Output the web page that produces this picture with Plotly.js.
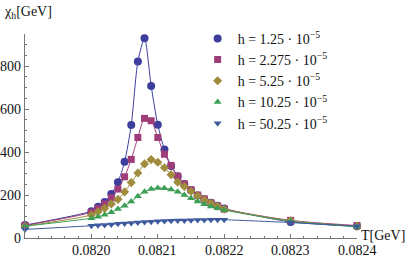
<!DOCTYPE html>
<html><head><meta charset="utf-8">
<script src="https://cdn.plot.ly/plotly-3.0.1.min.js"></script>
<style>html,body{margin:0;padding:0;background:#fff}#chart{width:411px;height:262px}</style>
</head><body><div id="chart"></div>
<script>
const T = [0.0819, 0.08200, 0.08201, 0.08202, 0.08203, 0.08204, 0.08205, 0.08206, 0.08207, 0.08208, 0.08209,
           0.08210, 0.08211, 0.08212, 0.08213, 0.08214, 0.08215, 0.08216, 0.08217, 0.08218, 0.08219, 0.08220,
           0.0823, 0.0824];
const chi_h125  = [60, 125, 145, 168, 205, 260, 355, 526, 822, 930, 708, 527, 412, 335, 287, 252, 222, 198, 180, 164, 150, 137, 75, 55];
const chi_h2275 = [58, 120, 138, 158, 188, 228, 285, 366, 468, 557, 546, 468, 390, 338, 288, 252, 225, 200, 182, 163, 148, 135, 82, 58];
const chi_h525  = [55, 107, 122, 138, 158, 180, 215, 258, 303, 345, 365, 353, 327, 295, 260, 240, 218, 196, 178, 162, 148, 134, 80, 55];
const chi_h1025 = [55, 92, 99, 108, 120, 135, 150, 170, 195, 215, 228, 233, 232, 226, 215, 200, 185, 170, 157, 147, 138, 130, 78, 52];
const chi_h5025 = [40, 57, 59, 61, 63, 66, 68, 70, 72, 74, 76, 78, 79, 80, 81, 82, 83, 84, 84, 85, 85, 85, 72, 55];
const xTickVals = [0.0820, 0.0821, 0.0822, 0.0823, 0.0824];
const xTickText = ['0.0820', '0.0821', '0.0822', '0.0823', '0.0824'];
const yTickVals = [0, 200, 400, 600, 800];
const yTickText = ['0', '200', '400', '600', '800'];
const labels = ["h = 1.25 · 10<sup>−5</sup>", "h = 2.275 · 10<sup>−5</sup>", "h = 5.25 · 10<sup>−5</sup>",
                "h = 10.25 · 10<sup>−5</sup>", "h = 50.25 · 10<sup>−5</sup>"];
const series = [chi_h125, chi_h2275, chi_h525, chi_h1025, chi_h5025];
const colors = ["#3d3d9e", "#9e3d78", "#a08c3d", "#3d9e55", "#3d5a9e"];
const symbols = ["circle", "square", "diamond", "triangle-up", "triangle-down"];
const sizes = [8, 7, 7, 7, 7];

const traces = [];
series.forEach((s, i) => {
  traces.push({x: T, y: s, type: 'scatter', mode: 'lines+markers', showlegend: false, cliponaxis: false,
    line: {color: colors[i], width: 1, shape: 'spline', smoothing: 0.7},
    marker: {color: colors[i], symbol: symbols[i], size: sizes[i]}});
});
series.forEach((s, i) => {
  traces.push({x: [null], y: [null], type: 'scatter', mode: 'markers', name: labels[i],
    marker: {color: colors[i], symbol: symbols[i], size: sizes[i]}});
});

const FAM = 'Liberation Serif';
const mkFont = () => ({family: FAM, size: 14, color: '#111'});
const annotations = [
  {text: 'χ<sub>h</sub>[GeV]', xref: 'paper', yref: 'paper', x: -0.07, y: 1.105, xanchor: 'left', yanchor: 'middle',
   showarrow: false, font: mkFont()},
  {text: 'T[GeV]', xref: 'paper', yref: 'paper', x: 1.005, y: 0.01, xanchor: 'left', yanchor: 'middle',
   showarrow: false, font: mkFont()}
];
xTickVals.forEach((v, i) => annotations.push({text: xTickText[i], x: v, xref: 'x', yref: 'paper', y: -0.06,
  xanchor: 'center', yanchor: 'middle', showarrow: false, font: mkFont()}));
yTickVals.forEach((v, i) => annotations.push({text: yTickText[i], y: v, yref: 'y', xref: 'paper', x: -0.006,
  xanchor: 'right', yanchor: 'middle', showarrow: false, font: mkFont()}));

const layout = {
  width: 411, height: 262,
  margin: {l: 25, r: 54, t: 34, b: 24, pad: 0},
  paper_bgcolor: '#fff', plot_bgcolor: '#fff',
  font: mkFont(),
  showlegend: true,
  legend: {x: 0.52, y: 1.055, xanchor: 'left', yanchor: 'top', bgcolor: 'rgba(0,0,0,0)',
    font: mkFont(), tracegroupgap: 0},
  xaxis: {range: [0.0819, 0.0824], showgrid: false, zeroline: false, showline: true, linecolor: '#777', linewidth: 1,
    ticks: 'inside', ticklen: 4, tickcolor: '#777', tickmode: 'array', tickvals: xTickVals, showticklabels: false,
    minor: {dtick: 0.00002, ticks: 'inside', ticklen: 2, tickcolor: '#777', showgrid: false}},
  yaxis: {range: [0, 950], showgrid: false, zeroline: false, showline: true, linecolor: '#777', linewidth: 1,
    ticks: 'inside', ticklen: 4, tickcolor: '#777', tickmode: 'array', tickvals: yTickVals, showticklabels: false,
    minor: {dtick: 50, ticks: 'inside', ticklen: 2, tickcolor: '#777', showgrid: false}},
  annotations: annotations
};
Plotly.newPlot('chart', traces, layout, {displayModeBar: false, staticPlot: true});
</script></body></html>
